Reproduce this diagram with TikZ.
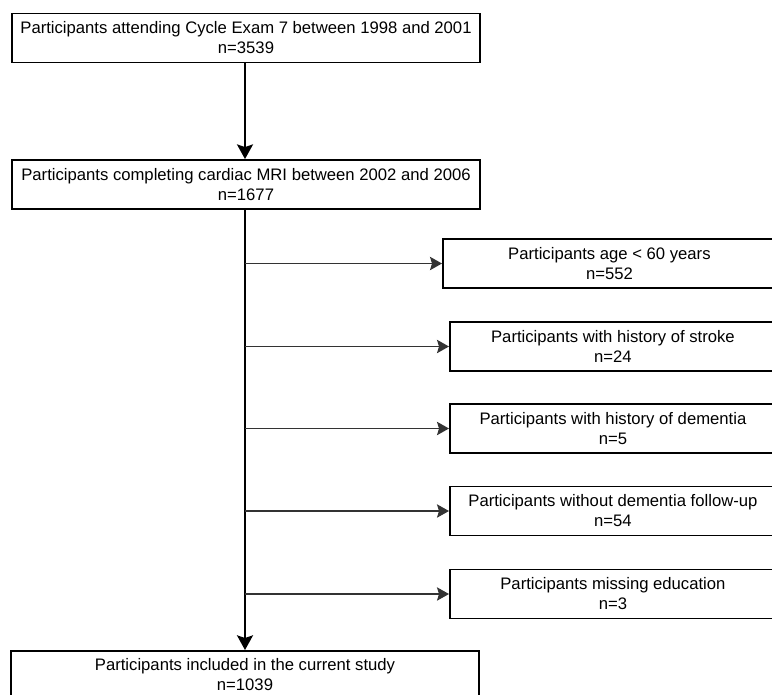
\documentclass[tikz,border=0pt]{standalone}
\usepackage{fontspec}
\setmainfont{Liberation Sans}
\usetikzlibrary{arrows.meta,positioning,calc}

\begin{document}
\begin{tikzpicture}[
  x=0.75pt, y=-0.75pt,
  box/.style={draw, line width=1.4pt, minimum height=36.75pt, align=center,
              inner sep=0pt, font=\fontsize{12.5}{15}\selectfont},
  mainbox/.style={box, minimum width=351pt},
  exclbox/.style={box, anchor=west, minimum width=244.5pt},
  arr/.style={-{Stealth[length=11pt, width=12pt, inset=2pt]}, line width=1.6pt},
  sidearr/.style={-{Stealth[length=9pt, width=10pt, inset=1.5pt]}, line width=0.9pt, black!80}
]
  \clip (0,0) rectangle (772,694);
  \useasboundingbox (0,0) rectangle (772,694);

  % Main flow
  \node[mainbox] (exam) at (246,38)
    {Participants attending Cycle Exam 7 between 1998 and 2001\\n=3539};
  \node[mainbox] (mri) at (246,184.5)
    {Participants completing cardiac MRI between 2002 and 2006\\n=1677};
  \node[mainbox, anchor=north, minimum height=36pt] (incl) at (245,650)
    {Participants included in the current study\\n=1039};

  % Exclusions
  \node[exclbox, minimum width=249.75pt] (age) at (442,263.5)
    {Participants age < 60 years\\n=552};
  \node[exclbox] (stroke) at (449,346.5)
    {Participants with history of stroke\\n=24};
  \node[exclbox] (dement) at (449,428.5)
    {Participants with history of dementia\\n=5};
  \node[exclbox] (follow) at (449,511)
    {Participants without dementia follow-up\\n=54};
  \node[exclbox] (educ) at (449,594)
    {Participants missing education\\n=3};

  % Arrows
  \draw[arr] (exam.south -| 245,0) -- (mri.north -| 245,0);
  \draw[arr] (mri.south -| 245,0) -- (incl.north);
  \draw[sidearr] (incl.north |- age.west) -- (age.west);
  \draw[sidearr] (incl.north |- stroke.west) -- (stroke.west);
  \draw[sidearr] (incl.north |- dement.west) -- (dement.west);
  \draw[sidearr] (incl.north |- follow.west) -- (follow.west);
  \draw[sidearr] (incl.north |- educ.west) -- (educ.west);
\end{tikzpicture}
\end{document}
